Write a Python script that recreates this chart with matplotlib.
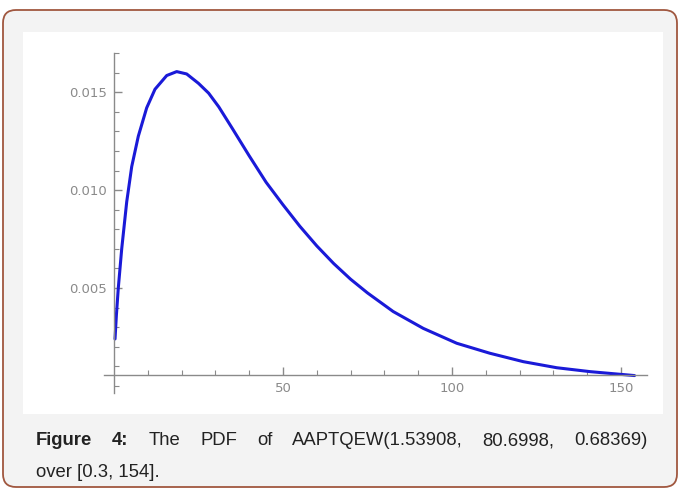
import matplotlib
matplotlib.use("Agg")
import matplotlib.pyplot as plt
from matplotlib.patches import FancyBboxPatch, Rectangle
from matplotlib.transforms import IdentityTransform

# values
x_vals = [0.3, 0.7, 1.27, 2.28, 3.76, 5.24, 7.19, 9.67, 12.13, 15.6, 18.55,
          21.5, 25.0, 28.0, 31.0, 35.0, 40.0, 45.0, 50.0, 55.0, 60.0, 65.0,
          70.0, 75.0, 82.6, 91.5, 101.4, 111.2, 121.1, 131.0, 140.9, 150.7, 154.0]
pdf_vals = [0.0024, 0.0036, 0.0050, 0.0070, 0.0094, 0.0112, 0.01275, 0.0142,
            0.01515, 0.01585, 0.01605, 0.01593, 0.01545, 0.01495, 0.01425,
            0.01315, 0.01175, 0.0104, 0.00925, 0.00815, 0.00715, 0.00625,
            0.00545, 0.00475, 0.0038, 0.00294, 0.00218, 0.00167, 0.00124,
            0.00093, 0.00073, 0.00058, 0.00053]

x_major = [50, 100, 150]
x_minor = [10, 20, 30, 40, 60, 70, 80, 90, 110, 120, 130, 140]
y_major = [0.005, 0.010, 0.015]
y_minor = [0.000, 0.001, 0.002, 0.003, 0.004, 0.006, 0.007, 0.008, 0.009,
           0.011, 0.012, 0.013, 0.014, 0.016, 0.017]

caption_line1 = ["Figure", "4:", "The", "PDF", "of", "AAPTQEW(1.53908,",
                 "80.6998,", "0.68369)"]
caption_bold = [True, True, False, False, False, False, False, False]
caption_line2 = "over [0.3, 154]."

W, H = 678, 488
fig = plt.figure(figsize=(W / 100, H / 100), dpi=100, facecolor="white")

# rounded grey box with brown border, white panel inside (kept behind the axes)
box = FancyBboxPatch((3, 1), 674, 477, boxstyle="round,pad=0,rounding_size=13",
                     transform=IdentityTransform(), facecolor="#f3f3f3",
                     edgecolor="#a0573f", linewidth=1.3, zorder=-2)
fig.patches.append(box)
panel = Rectangle((23, H - 414), 640, 382, transform=IdentityTransform(),
                  facecolor="white", edgecolor="none", zorder=-1)
fig.patches.append(panel)

ax = fig.add_axes([104 / W, 1 - 393 / H, 543 / W, 340 / H])
ax.set_facecolor("none")
ax.plot(x_vals, pdf_vals, color="#1a1ad8", linewidth=2.2,
        solid_capstyle="round", solid_joinstyle="round")

ax.set_xlim(-2.96, 157.7)
ax.set_ylim(-0.00036, 0.0170)

for side in ["top", "right"]:
    ax.spines[side].set_visible(False)
ax.spines["left"].set_position(("data", 0))
ax.spines["bottom"].set_position(("data", 0.00055))
for side in ["left", "bottom"]:
    ax.spines[side].set_color("#8a8a8a")
    ax.spines[side].set_linewidth(1.0)

ax.set_xticks(x_major)
ax.set_xticks(x_minor, minor=True)
ax.set_xticklabels([str(v) for v in x_major])
ax.set_yticks(y_major)
ax.set_yticks(y_minor, minor=True)
ax.set_yticklabels(["0.005", "0.010", "0.015"])
ax.tick_params(which="both", direction="in", colors="#8a8a8a", labelcolor="#8a8a8a",
               labelsize=9.5)
ax.tick_params(which="major", length=6, width=1.0)
ax.tick_params(which="minor", length=3.5, width=0.8)
ax.tick_params(axis="x", pad=5)
ax.tick_params(axis="y", pad=5)

# justified first caption line
fig.canvas.draw()
renderer = fig.canvas.get_renderer()
left_px, right_px, base1 = 36, 648, H - 445
texts = []
total = 0
for word, bold in zip(caption_line1, caption_bold):
    t = fig.text(0, 0, word, fontsize=13.3, family="Liberation Sans", color="#222222",
                 fontweight="bold" if bold else "normal", transform=IdentityTransform(),
                 va="baseline")
    w = t.get_window_extent(renderer).width
    texts.append((t, w))
    total += w
gap = (right_px - left_px - total) / (len(texts) - 1)
xpos = left_px
for t, w in texts:
    t.set_position((xpos, base1))
    xpos += w + gap
fig.text(left_px, H - 477, caption_line2, fontsize=13.3, family="Liberation Sans",
         color="#222222", transform=IdentityTransform(), va="baseline")

fig.savefig("out.png", dpi=100, facecolor="white")
